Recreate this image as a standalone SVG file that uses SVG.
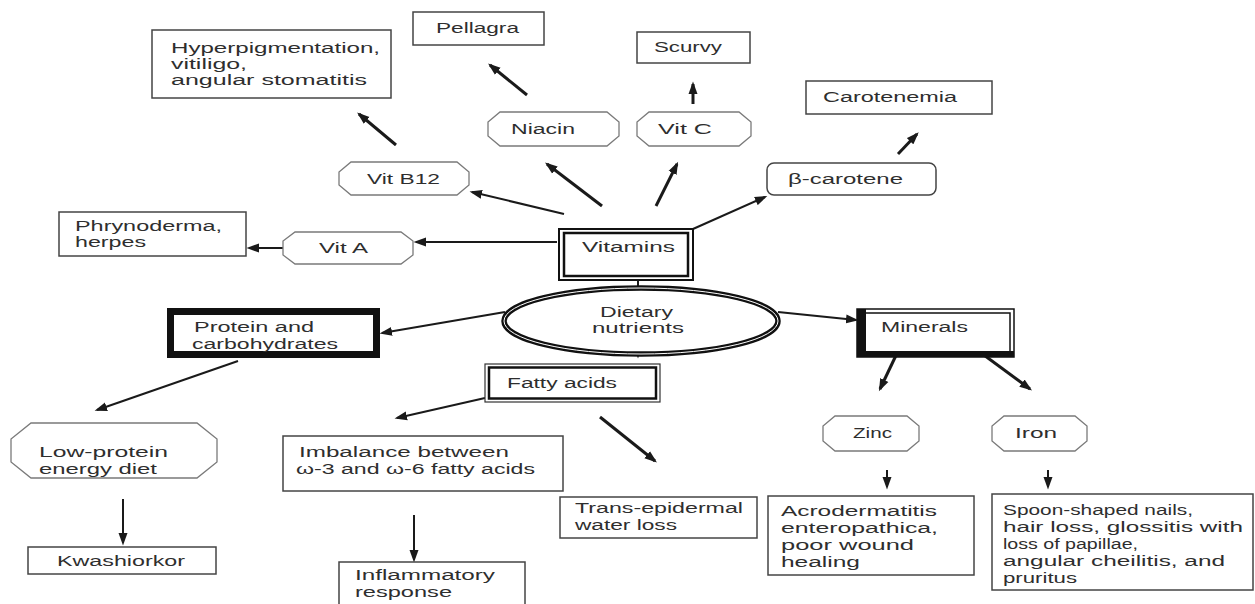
<svg xmlns="http://www.w3.org/2000/svg" width="1255" height="604" viewBox="0 0 1255 604">
<style>
text{font-family:"Liberation Sans",Arial,sans-serif;font-size:14px;fill:#2e2e2e}
.box{fill:#fff;stroke:#444;stroke-width:1.5}
.oct{fill:#fff;stroke:#7a7a7a;stroke-width:1.3}
.c{fill:none;stroke:#1a1a1a;stroke-width:2}
.k{stroke-width:3}
</style>
<defs>
<marker id="ah" markerUnits="userSpaceOnUse" markerWidth="13" markerHeight="10" refX="10" refY="5" orient="auto">
<path d="M0,0.5 L12.5,5 L0,9.5 z" fill="#1a1a1a"/>
</marker>
</defs>
<rect width="1255" height="604" fill="#fff"/>

<g id="connectors">
<path class="c" d="M557,242 L416,242" marker-end="url(#ah)"/>
<path class="c" d="M283,248 L249,248" marker-end="url(#ah)"/>
<path class="c" d="M564,214 L472,192" marker-end="url(#ah)"/>
<path class="c k" d="M602,206 L547,164" marker-end="url(#ah)"/>
<path class="c k" d="M656,206 L677,164" marker-end="url(#ah)"/>
<path class="c" d="M693,229 L765,197" marker-end="url(#ah)"/>
<path class="c k" d="M396,145 L359,114" marker-end="url(#ah)"/>
<path class="c k" d="M527,95 L490,65" marker-end="url(#ah)"/>
<path class="c k" d="M693,104 L693,84" marker-end="url(#ah)"/>
<path class="c k" d="M898,154 L917,134" marker-end="url(#ah)"/>
<path class="c" d="M638,298 L638,258" marker-end="url(#ah)"/>
<path class="c" d="M505,312 L382,333" marker-end="url(#ah)"/>
<path class="c" d="M778,312 L856,320" marker-end="url(#ah)"/>
<path class="c" d="M638,336 L638,356" marker-end="url(#ah)"/>
<path class="c" d="M238,361 L97,410" marker-end="url(#ah)"/>
<path class="c" d="M123,499 L123,543" marker-end="url(#ah)"/>
<path class="c" d="M485,398 L397,418" marker-end="url(#ah)"/>
<path class="c k" d="M600,417 L655,461" marker-end="url(#ah)"/>
<path class="c" d="M414,515 L414,560" marker-end="url(#ah)"/>
<path class="c k" d="M900,347 L880,389" marker-end="url(#ah)"/>
<path class="c k" d="M973,347 L1030,389" marker-end="url(#ah)"/>
<path class="c" d="M887,470 L887,487" marker-end="url(#ah)"/>
<path class="c" d="M1048,470 L1048,487" marker-end="url(#ah)"/>
</g>

<g id="hyperpigmentation">
<rect class="box" x="152" y="30" width="239" height="68"/>
<text x="171" y="53" textLength="209" lengthAdjust="spacingAndGlyphs">Hyperpigmentation,</text>
<text x="171" y="69" textLength="76" lengthAdjust="spacingAndGlyphs">vitiligo,</text>
<text x="171" y="85" textLength="196" lengthAdjust="spacingAndGlyphs">angular   stomatitis</text>
</g>
<g id="pellagra">
<rect class="box" x="413" y="12" width="131" height="33"/>
<text x="436" y="33" textLength="83" lengthAdjust="spacingAndGlyphs">Pellagra</text>
</g>
<g id="scurvy">
<rect class="box" x="637" y="32" width="113" height="31"/>
<text x="654" y="52" textLength="68" lengthAdjust="spacingAndGlyphs">Scurvy</text>
</g>
<g id="carotenemia">
<rect class="box" x="806" y="81" width="186" height="33"/>
<text x="823" y="102" textLength="134" lengthAdjust="spacingAndGlyphs">Carotenemia</text>
</g>
<g id="niacin">
<path class="oct" d="M500,112 L607,112 L619,122 L619,136 L607,146 L500,146 L488,136 L488,122 z"/>
<text x="511" y="134" textLength="64" lengthAdjust="spacingAndGlyphs">Niacin</text>
</g>
<g id="vitc">
<path class="oct" d="M649,112 L739,112 L751,122 L751,136 L739,146 L649,146 L637,136 L637,122 z"/>
<text x="658" y="134" textLength="54" lengthAdjust="spacingAndGlyphs">Vit C</text>
</g>
<g id="vitb12">
<path class="oct" d="M351,162 L457,162 L469,172 L469,185 L457,195 L351,195 L339,185 L339,172 z"/>
<text x="367" y="184" textLength="73" lengthAdjust="spacingAndGlyphs">Vit B12</text>
</g>
<g id="betacarotene">
<rect class="box" x="767" y="163" width="169" height="32" rx="7"/>
<text x="788" y="184" textLength="115" lengthAdjust="spacingAndGlyphs">β-carotene</text>
</g>
<g id="phrynoderma">
<rect class="box" x="59" y="212" width="187" height="44"/>
<text x="75" y="231" textLength="147" lengthAdjust="spacingAndGlyphs">Phrynoderma,</text>
<text x="75" y="247" textLength="71" lengthAdjust="spacingAndGlyphs">herpes</text>
</g>
<g id="vita">
<path class="oct" d="M295,232 L401,232 L413,241 L413,255 L401,264 L295,264 L283,255 L283,241 z"/>
<text x="319" y="253" textLength="49" lengthAdjust="spacingAndGlyphs">Vit A</text>
</g>
<g id="vitamins">
<rect x="559" y="229" width="134" height="51" fill="#fff" stroke="#111" stroke-width="2"/>
<rect x="564" y="233" width="124" height="43" fill="none" stroke="#111" stroke-width="2.5"/>
<text x="582" y="252" textLength="93" lengthAdjust="spacingAndGlyphs">Vitamins</text>
</g>
<g id="dietary">
<ellipse cx="641" cy="321" rx="137" ry="33" fill="#fff" stroke="#111" stroke-width="5.5"/>
<ellipse cx="641" cy="321" rx="137" ry="33" fill="none" stroke="#fff" stroke-width="1"/>
<text x="600" y="317" textLength="73" lengthAdjust="spacingAndGlyphs">Dietary</text>
<text x="592" y="333" textLength="92" lengthAdjust="spacingAndGlyphs">nutrients</text>
</g>
<g id="protein">
<rect x="170.5" y="311.5" width="206" height="43" fill="#fff" stroke="#111" stroke-width="7"/>
<text x="194" y="332" textLength="120" lengthAdjust="spacingAndGlyphs">Protein and</text>
<text x="192" y="349" textLength="146" lengthAdjust="spacingAndGlyphs">carbohydrates</text>
</g>
<g id="minerals">
<rect x="857" y="309" width="157" height="48" fill="#fff" stroke="#111" stroke-width="1.5"/>
<rect x="862" y="313" width="148" height="39" fill="none" stroke="#111" stroke-width="1.5"/>
<rect x="857" y="309" width="9" height="48" fill="#111"/>
<rect x="857" y="351" width="157" height="6" fill="#111"/>
<text x="881" y="332" textLength="87" lengthAdjust="spacingAndGlyphs">Minerals</text>
</g>
<g id="fatty">
<rect x="485" y="364" width="175" height="38" fill="#fff" stroke="#333" stroke-width="1.2"/>
<rect x="489" y="367.5" width="167" height="31" fill="none" stroke="#111" stroke-width="2.5"/>
<text x="507" y="388" textLength="110" lengthAdjust="spacingAndGlyphs">Fatty acids</text>
</g>
<g id="lowprotein">
<path class="oct" d="M31,423 L197,423 L217,439 L217,462 L197,478 L31,478 L11,462 L11,439 z"/>
<text x="39" y="457" textLength="129" lengthAdjust="spacingAndGlyphs">Low-protein</text>
<text x="39" y="474" textLength="118" lengthAdjust="spacingAndGlyphs">energy diet</text>
</g>
<g id="kwashiorkor">
<rect class="box" x="28" y="547" width="188" height="27"/>
<text x="57" y="566" textLength="128" lengthAdjust="spacingAndGlyphs">Kwashiorkor</text>
</g>
<g id="imbalance">
<rect class="box" x="283" y="436" width="280" height="55"/>
<text x="299" y="457" textLength="210" lengthAdjust="spacingAndGlyphs">Imbalance  between</text>
<text x="296" y="474" textLength="239" lengthAdjust="spacingAndGlyphs">ω-3 and ω-6 fatty acids</text>
</g>
<g id="inflammatory">
<rect class="box" x="339" y="562" width="186" height="50"/>
<text x="355" y="580" textLength="140" lengthAdjust="spacingAndGlyphs">Inflammatory</text>
<text x="355" y="597" textLength="97" lengthAdjust="spacingAndGlyphs">response</text>
</g>
<g id="transepidermal">
<rect class="box" x="560" y="497" width="197" height="41"/>
<text x="575" y="513" textLength="168" lengthAdjust="spacingAndGlyphs">Trans-epidermal</text>
<text x="575" y="530" textLength="102" lengthAdjust="spacingAndGlyphs">water loss</text>
</g>
<g id="zinc">
<path class="oct" d="M835,416 L907,416 L919,426 L919,441 L907,451 L835,451 L823,441 L823,426 z"/>
<text x="853" y="438" textLength="39" lengthAdjust="spacingAndGlyphs">Zinc</text>
</g>
<g id="iron">
<path class="oct" d="M1004,416 L1075,416 L1087,426 L1087,441 L1075,451 L1004,451 L992,441 L992,426 z"/>
<text x="1015" y="438" textLength="42" lengthAdjust="spacingAndGlyphs">Iron</text>
</g>
<g id="acrodermatitis">
<rect class="box" x="768" y="496" width="206" height="79"/>
<text x="781" y="516" textLength="156" lengthAdjust="spacingAndGlyphs">Acrodermatitis</text>
<text x="781" y="533" textLength="157" lengthAdjust="spacingAndGlyphs">enteropathica,</text>
<text x="781" y="550" textLength="133" lengthAdjust="spacingAndGlyphs">poor   wound</text>
<text x="781" y="567" textLength="79" lengthAdjust="spacingAndGlyphs">healing</text>
</g>
<g id="spoon">
<rect class="box" x="992" y="494" width="261" height="96"/>
<text x="1003" y="515" textLength="190" lengthAdjust="spacingAndGlyphs">Spoon-shaped nails,</text>
<text x="1003" y="532" textLength="240" lengthAdjust="spacingAndGlyphs">hair  loss, glossitis with</text>
<text x="1003" y="549" textLength="135" lengthAdjust="spacingAndGlyphs">loss of papillae,</text>
<text x="1003" y="566" textLength="222" lengthAdjust="spacingAndGlyphs">angular  cheilitis, and</text>
<text x="1003" y="583" textLength="74" lengthAdjust="spacingAndGlyphs">pruritus</text>
</g>
</svg>
